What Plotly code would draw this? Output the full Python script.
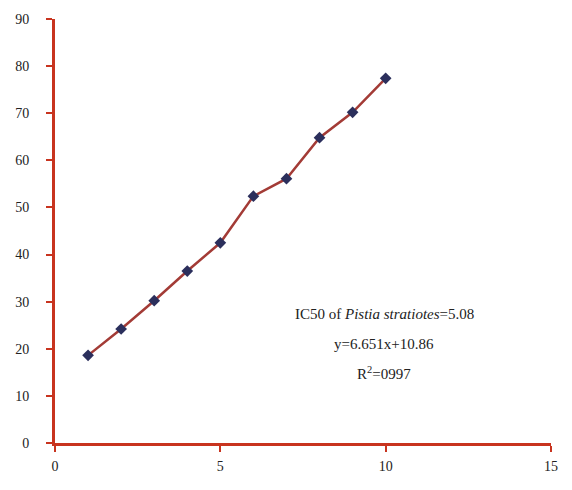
import plotly.graph_objects as go

x_vals = [1, 2, 3, 4, 5, 6, 7, 8, 9, 10]
y_vals = [18.6, 24.2, 30.2, 36.5, 42.5, 52.4, 56.1, 64.8, 70.2, 77.4]
x_ticks = [0, 5, 10, 15]
y_ticks = [0, 10, 20, 30, 40, 50, 60, 70, 80, 90]
annot_lines = ["IC50 of <i>Pistia stratiotes</i>=5.08", "y=6.651x+10.86", "R<sup>2</sup>=0997"]
annot_y = [27.4, 21.1, 14.9]
annot_x = 9.95

axis_red = "#c8341f"
font = dict(family="Liberation Serif, Times New Roman, serif", size=14, color="#222222")

fig = go.Figure()
fig.add_trace(go.Scatter(
    x=x_vals, y=y_vals, mode="lines+markers",
    line=dict(color="#a33b36", width=2.5),
    marker=dict(symbol="diamond", size=9, color="#2b2f5c"),
    showlegend=False,
))

for txt, yy in zip(annot_lines, annot_y):
    fig.add_annotation(x=annot_x, y=yy, text=txt, showarrow=False,
                       font=dict(family=font["family"], size=15, color="#222222"),
                       xanchor="center", yanchor="middle")

fig.update_layout(
    width=572, height=490,
    margin=dict(l=55, r=21, t=17, b=47),
    paper_bgcolor="white", plot_bgcolor="white",
    font=font,
)
fig.update_xaxes(range=[0, 15], tickvals=x_ticks, showgrid=False, zeroline=False,
                 showline=True, linecolor=axis_red, linewidth=3,
                 ticks="outside", ticklen=6, tickwidth=2, tickcolor=axis_red,
                 ticklabelstandoff=2)
fig.update_yaxes(range=[0, 90], tickvals=y_ticks, showgrid=False, zeroline=False,
                 showline=True, linecolor=axis_red, linewidth=3,
                 ticks="outside", ticklen=6, tickwidth=2, tickcolor=axis_red,
                 ticklabelstandoff=14)

fig.write_html("out.html")
